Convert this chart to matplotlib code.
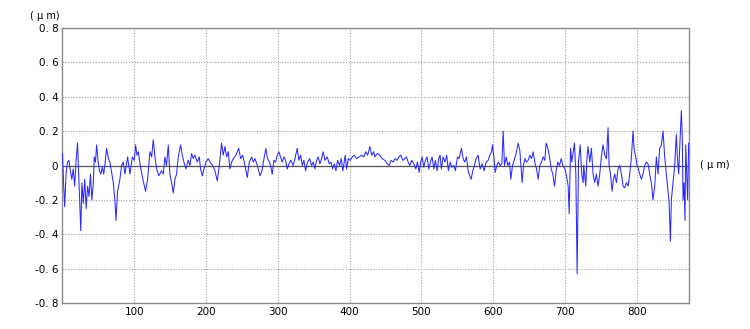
import matplotlib
matplotlib.use('Agg')
import matplotlib.pyplot as plt

# profile (position, height in um)
x_pos = [0, 1.5, 3, 5, 7, 9, 11, 13, 15, 17, 19, 21, 23, 25.5, 27, 29, 31, 33, 35, 37,
         39, 41, 43, 44.3, 46, 47.6, 49.5, 51.5, 53.5, 55.5, 57.5, 59.5, 61.5, 64, 66, 68.5,
         70.8, 73, 74.5, 76.8, 80, 82.4, 84.7, 87, 90.8, 94, 97.3, 100, 101.9, 103.8, 105.6,
         108.4, 112, 115.8, 118.6, 121.9, 124.2, 126.5, 128.8, 131.2, 134.4, 138, 140.5,
         142.7, 145, 147.4, 149.7, 152, 154.4, 156.7, 159, 161.3, 164.6, 166.9, 169.2, 172,
         175.3, 177.6, 179.9, 182.2, 184.5, 187.8, 190.6, 192.4, 194.8, 197.1, 199.9, 203.1,
         205.5, 209.2, 212.4, 215.7, 218.5, 221.7, 224, 226.4, 228.7, 231, 233.3, 235.7, 238,
         241.7, 245.5, 248.2, 251, 254.3, 257.5, 260.3, 263.6, 265.9, 268.2, 271.5, 275.2,
         278, 281.2, 283.4, 285.7, 288.5, 290.4, 292.3, 294.6, 296.9, 299.2, 301.5, 303.9,
         306.2, 308.5, 310.9, 313.2, 315.5, 318.3, 321.5, 323.9, 327.1, 329.4, 331.8, 334.1,
         336.4, 338.7, 341.5, 344.3, 347.1, 349.4, 351.7, 354, 356.3, 358.7, 361, 363.3,
         365.6, 368.9, 371.7, 374, 376.3, 378.6, 381, 383.3, 386.1, 388.4, 390.7, 392.6, 394,
         395.9, 398.2, 401, 403.8, 406.6, 409.8, 413.1, 416.8, 420, 422.4, 425.2, 428.4,
         430.8, 433.6, 435.2, 438.5, 442.2, 445.4, 449.2, 452.4, 455.2, 458, 460.8, 463.5,
         466.3, 468.6, 471.4, 474.2, 477, 479.3, 481.6, 483.9, 486.7, 489.5, 492.3, 494.6,
         496.9, 499.2, 501.1, 503.4, 505.7, 508, 510.4, 512.7, 515, 517.3, 519.6, 522, 524.3,
         526.1, 528, 530.3, 533.1, 535.4, 537.7, 540.1, 542.4, 545.2, 547.5, 550.3, 552.6,
         555.9, 558.2, 560.5, 562.9, 565.2, 567.5, 569.4, 571.7, 574, 576.4, 579.2, 580.1,
         582, 584.7, 587.5, 590.3, 593.1, 595.4, 597.8, 599.2, 601, 602.9, 605.2, 607.5,
         609.9, 612.2, 614, 615.9, 618.2, 620.5, 622.8, 624.7, 627, 629.3, 632.1, 634.9,
         637.2, 639.1, 640.5, 642.3, 644.2, 646.5, 648.8, 651.2, 653.5, 655.8, 658.1, 660.5,
         662.8, 665.1, 667.4, 669.8, 672.1, 673.9, 676.3, 678.6, 680.9, 683.2, 685.6, 687.9,
         690.2, 692.5, 694.9, 697.2, 700, 702.3, 704.6, 706, 707.9, 709.7, 711.6, 713.4,
         715.3, 717.1, 719, 721.3, 723.6, 725.5, 726.3, 729.1, 730.9, 732.3, 734.7, 737,
         739.3, 741.6, 743.9, 746.3, 748.6, 750.9, 753.2, 755.6, 757.9, 760.2, 761.6, 763.5,
         765.8, 767.6, 769.5, 771.8, 774.1, 776.4, 778.8, 781.1, 783.4, 785.7, 788.1, 790.4,
         792.7, 795, 796.4, 798.7, 800.6, 802.4, 804.3, 806.6, 808.9, 811.2, 813.6, 815.9,
         818.2, 820.5, 822.8, 825.2, 827.5, 829.8, 832.1, 834.5, 836.8, 839.1, 841.4, 843.7,
         845.1, 847, 848.4, 850.7, 853, 855.3, 856.7, 858.6, 860, 862.3, 863.7, 864.6, 866,
         867.4, 868.4, 869.8, 871.1, 872.5]
profile = [0.07, -0.1, -0.24, -0.05, 0.02, 0.03, -0.03, -0.08, -0.02, -0.12, 0.03, 0.13,
           -0.1, -0.38, -0.1, -0.22, -0.08, -0.25, -0.12, -0.18, -0.05, -0.2, -0.1, 0.05,
           0.02, 0.12, 0.03, -0.03, -0.05, -0.01, -0.05, 0.02, 0.1, 0.04, 0.02, -0.04, -0.1,
           -0.2, -0.32, -0.15, -0.08, 0.0, 0.02, -0.05, 0.05, -0.05, 0.05, 0.03, 0.12, 0.06,
           0.08, 0.0, -0.08, -0.15, -0.08, 0.08, 0.05, 0.15, 0.05, -0.02, -0.06, -0.03, -0.05,
           0.05, 0.0, 0.12, -0.05, -0.1, -0.16, -0.08, -0.05, 0.05, 0.12, 0.06, 0.02, -0.02,
           0.03, 0.0, 0.07, 0.04, 0.06, 0.02, 0.05, -0.02, -0.06, -0.02, 0.02, 0.04, 0.02,
           0.0, -0.03, -0.09, 0.0, 0.13, 0.06, 0.11, 0.05, 0.08, -0.02, 0.02, 0.04, 0.06, 0.1,
           0.04, 0.06, 0.0, -0.07, 0.02, 0.05, 0.02, 0.04, 0.0, -0.06, -0.03, 0.05, 0.1, 0.04,
           0.02, -0.01, -0.05, 0.03, 0.02, 0.06, 0.08, 0.05, 0.02, 0.05, 0.03, -0.02, 0.01,
           0.03, 0.0, 0.04, 0.1, 0.03, 0.06, 0.0, 0.03, -0.03, 0.02, 0.04, 0.0, 0.02, -0.02,
           0.03, 0.05, 0.01, 0.04, 0.08, 0.03, 0.05, 0.01, 0.02, -0.02, 0.01, -0.03, 0.03, 0.0,
           0.04, -0.03, 0.02, 0.06, -0.02, 0.04, 0.03, 0.05, 0.06, 0.04, 0.05, 0.06, 0.05,
           0.08, 0.06, 0.11, 0.06, 0.08, 0.05, 0.07, 0.06, 0.04, 0.03, 0.01, 0.0, 0.03, 0.02,
           0.04, 0.03, 0.05, 0.06, 0.03, 0.04, 0.05, 0.02, 0.0, 0.03, 0.01, -0.02, 0.02, -0.04,
           0.02, 0.05, -0.01, 0.03, 0.05, -0.02, 0.02, 0.05, -0.02, 0.03, -0.03, 0.04, 0.06,
           -0.02, 0.05, 0.02, 0.06, -0.03, 0.02, -0.01, 0.0, -0.03, 0.05, 0.04, 0.1, 0.04,
           0.02, 0.05, -0.03, -0.06, -0.08, -0.03, 0.0, 0.04, 0.06, 0.03, -0.02, 0.01, -0.03,
           0.02, 0.03, 0.06, 0.08, 0.12, 0.05, -0.04, 0.0, 0.02, 0.0, 0.01, 0.2, 0.0, 0.05,
           0.0, 0.02, -0.08, 0.0, 0.03, 0.07, 0.13, 0.09, -0.02, -0.1, 0.0, 0.04, 0.02, 0.03,
           0.06, 0.04, 0.08, 0.02, -0.02, -0.08, 0.0, 0.02, 0.05, 0.03, 0.13, 0.1, 0.05, -0.02,
           -0.05, -0.12, -0.03, 0.02, 0.0, 0.04, 0.0, -0.02, -0.06, -0.12, -0.28, 0.1, 0.02,
           0.08, 0.13, -0.05, -0.63, 0.02, 0.12, -0.05, -0.1, 0.0, -0.12, 0.05, 0.11, 0.02,
           0.1, -0.05, -0.1, -0.05, -0.12, -0.05, 0.05, 0.12, 0.06, 0.04, 0.22, 0.0, -0.05,
           -0.15, -0.08, -0.05, -0.1, -0.02, 0.0, -0.05, -0.12, -0.13, -0.1, -0.12, -0.05,
           0.05, 0.2, 0.1, 0.05, 0.0, -0.02, -0.05, -0.08, -0.05, 0.0, 0.02, 0.01, -0.05, -0.1,
           -0.2, -0.12, 0.05, -0.05, 0.1, 0.12, 0.2, 0.05, -0.05, -0.15, -0.2, -0.44, -0.2,
           -0.1, 0.0, 0.18, 0.05, -0.05, 0.1, 0.32, 0.15, -0.2, -0.1, -0.32, 0.12, -0.05,
           -0.2, 0.13]

x_ticks = [100, 200, 300, 400, 500, 600, 700, 800]
y_ticks = [-0.8, -0.6, -0.4, -0.2, 0, 0.2, 0.4, 0.6, 0.8]
y_labels = ['-0. 8', '-0. 6', '-0. 4', '-0. 2', '0',
            '0. 2', '0. 4', '0. 6', '0. 8']
unit = '( μ m)'

plt.rcParams['font.family'] = ['DejaVu Sans']

fig = plt.figure(figsize=(7.5, 3.29), dpi=100)
ax = fig.add_axes([0.0833, 0.079, 0.8354, 0.8359])
ax.axhline(0, color='#555555', lw=0.9, zorder=2)
ax.plot(x_pos, profile, color='#2a2aff', lw=0.75, zorder=3)
ax.set_xlim(0, 873)
ax.set_ylim(-0.8, 0.8)
ax.set_xticks(x_ticks)
ax.set_yticks(y_ticks)
ax.set_yticklabels(y_labels)
ax.grid(True, color='#a0a0a0', linestyle=(0, (1, 1.5)), lw=0.8, zorder=1)
ax.tick_params(length=0, labelsize=7.5, pad=3)
for s in ax.spines.values():
    s.set_color('#8c8c8c')
    s.set_linewidth(1.0)

fig.text(0.0593, 1 - 16 / 329, unit, ha='center', va='center', fontsize=7)
fig.text(0.953, 0.4985, unit, ha='center', va='center', fontsize=7)

fig.savefig('out.png', dpi=100)
